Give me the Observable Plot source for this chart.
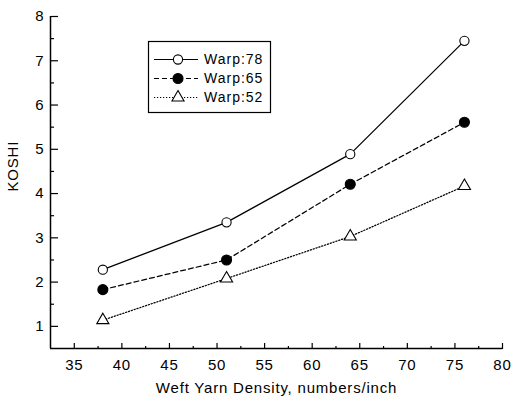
<!DOCTYPE html>
<html>
<head>
<meta charset="utf-8">
<script src="https://cdn.jsdelivr.net/npm/d3@7"></script>
<script src="https://cdn.jsdelivr.net/npm/@observablehq/plot@0.6"></script>
<style>
  body { margin: 0; background: #fff; }
  #wrap { position: relative; width: 511px; height: 406px; }
  #legend { position: absolute; left: 0; top: 0; pointer-events: none; }
</style>
</head>
<body>
<div id="wrap"></div>
<script>
// ---- data ----
const weft = [38, 51, 64, 76];
const series = ["Warp:78", "Warp:65", "Warp:52"];
const koshi78 = [2.28, 3.35, 4.89, 7.45];
const koshi65 = [1.83, 2.50, 4.21, 5.61];
const koshi52 = [1.14, 2.08, 3.03, 4.17];
const xTicks = [35, 40, 45, 50, 55, 60, 65, 70, 75, 80];
const xMinor = [37.5, 42.5, 47.5, 52.5, 57.5, 62.5, 67.5, 72.5, 77.5];
const yTicks = [1, 2, 3, 4, 5, 6, 7, 8];
const yMinor = [1.5, 2.5, 3.5, 4.5, 5.5, 6.5, 7.5];
const xLabel = "Weft Yarn Density, numbers/inch";
const yLabel = "KOSHI";

// ---- styles per series ----
const styles = {
  "Warp:78": {dash: null, symbol: "circle", fill: "white", r: 4.6},
  "Warp:65": {dash: "5,3", symbol: "circle", fill: "black", r: 5},
  "Warp:52": {dash: "1.2,1.8", symbol: "triangle", fill: "white", r: 4.5}
};

const values = [koshi78, koshi65, koshi52];
const rows = series.flatMap((s, i) => weft.map((w, j) => ({series: s, x: w, y: values[i][j]})));

const font = "'Liberation Sans', Arial, sans-serif";

const lineMarks = series.map(s => Plot.line(rows.filter(d => d.series === s), {
  x: "x", y: "y", stroke: "black", strokeWidth: 1.25,
  strokeDasharray: styles[s].dash
}));
const dotMarks = series.map(s => Plot.dot(rows.filter(d => d.series === s), {
  x: "x", y: "y", symbol: () => styles[s].symbol, r: styles[s].r,
  fill: styles[s].fill, stroke: "black", strokeWidth: 1.1
}));

const chart = Plot.plot({
  width: 511,
  height: 406,
  marginLeft: 50,
  marginRight: 9,
  marginTop: 16,
  marginBottom: 58,
  style: {fontFamily: font, fontSize: "15px", background: "white", color: "black", letterSpacing: "0.8px"},
  x: {domain: [32.5, 80]},
  y: {domain: [0.5, 8]},
  symbol: {type: "identity"},
  marks: [
    // axis lines
    Plot.ruleX([32.5], {stroke: "black", strokeWidth: 1.5}),
    Plot.ruleY([0.5], {stroke: "black", strokeWidth: 1.5}),
    // labels
    Plot.axisX({ticks: xTicks, tickSize: 0, tickPadding: 11, label: null, fontSize: 15}),
    Plot.axisY({ticks: yTicks, tickSize: 0, tickPadding: 6, label: null, fontSize: 15}),
    // inward ticks
    Plot.axisX({ticks: xTicks, anchor: "top", frameAnchor: "bottom", tickSize: 6, text: null, label: null, strokeWidth: 1.2}),
    Plot.axisX({ticks: xMinor, anchor: "top", frameAnchor: "bottom", tickSize: 3, text: null, label: null, strokeWidth: 1.2}),
    Plot.axisY({ticks: yTicks, anchor: "right", frameAnchor: "left", tickSize: 7, text: null, label: null, strokeWidth: 1.2}),
    Plot.axisY({ticks: yMinor, anchor: "right", frameAnchor: "left", tickSize: 3, text: null, label: null, strokeWidth: 1.2}),
    // axis titles
    Plot.text([xLabel], {text: d => d, frameAnchor: "bottom", dy: 44, fontSize: 15, letterSpacing: "1.9px"}),
    Plot.text([yLabel], {text: d => d, frameAnchor: "left", rotate: -90, dx: -37, dy: 9, fontSize: 15, letterSpacing: "1.6px"}),
    ...lineMarks,
    ...dotMarks
  ]
});

const wrap = document.getElementById("wrap");
wrap.appendChild(chart);

// ---- legend overlay ----
const lg = d3.select(wrap).append("svg")
  .attr("id", "legend")
  .attr("width", 511).attr("height", 406)
  .style("font-family", font);

const box = {x: 148, y: 41, w: 122, h: 71};
lg.append("rect")
  .attr("x", box.x + 0.5).attr("y", box.y + 0.5)
  .attr("width", box.w).attr("height", box.h)
  .attr("fill", "white").attr("stroke", "black").attr("stroke-width", 1.2);

const items = lg.selectAll("g.item").data(series).join("g")
  .attr("class", "item")
  .attr("transform", (d, i) => `translate(${box.x}, ${box.y + 18.5 + i * 19})`);

items.append("line")
  .attr("x1", 6).attr("x2", 50).attr("y1", 0).attr("y2", 0)
  .attr("stroke", "black").attr("stroke-width", 1.2)
  .attr("stroke-dasharray", d => styles[d].dash);

items.append("path")
  .attr("transform", "translate(30,0)")
  .attr("d", d => d3.symbol(styles[d].symbol === "circle" ? d3.symbolCircle : d3.symbolTriangle,
      styles[d].r * styles[d].r * Math.PI)())
  .attr("fill", d => styles[d].fill)
  .attr("stroke", "black").attr("stroke-width", 1.1);

items.append("text")
  .attr("x", 56).attr("y", 0).attr("dy", "0.35em")
  .attr("font-size", 14)
  .attr("letter-spacing", "1px")
  .text(d => d);
</script>
</body>
</html>
